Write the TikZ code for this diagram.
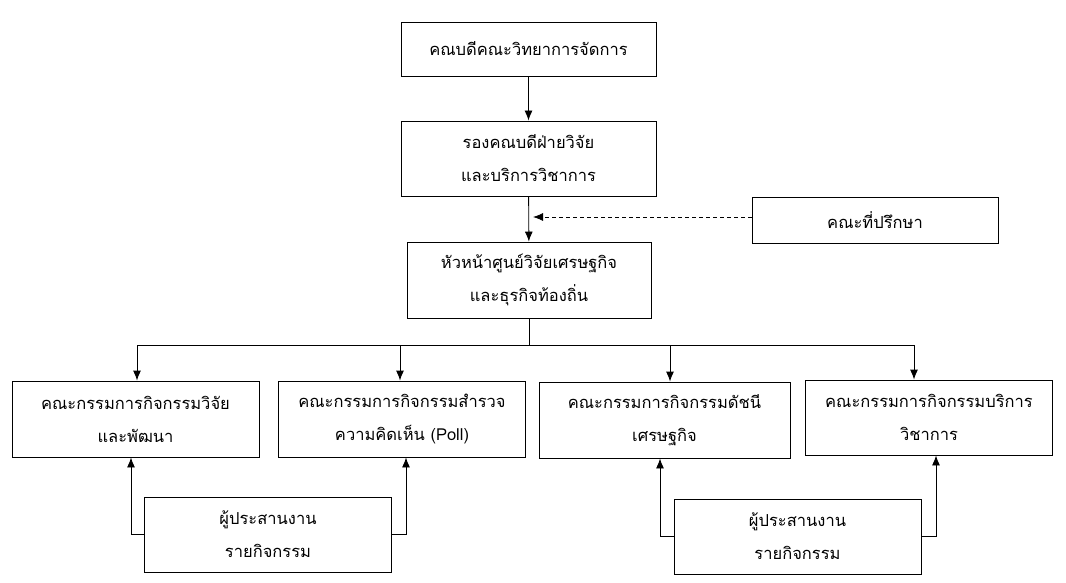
\documentclass[tikz,border=0pt]{standalone}
\usepackage{fontspec}
\newfontfamily\thaifont[Script=Thai]{Loma}
\usetikzlibrary{arrows.meta}

\begin{document}
\begin{tikzpicture}[x=1pt,y=-1pt,->,>={Latex[length=10pt,width=8pt]},line width=0.9pt,
                    font=\thaifont\fontsize{16.5}{33}\selectfont]
  \tikzstyle{every node}=[draw,align=center,inner sep=0pt]
  \tikzstyle{board}=[minimum width=247,minimum height=76]
  \useasboundingbox (0,0) rectangle (1066,583);

  \node[minimum width=255,minimum height=54](dean) at (528.5,49) {คณบดีคณะวิทยาการจัดการ};
  \node[minimum width=255,minimum height=75](vice) at (528.5,158.5) {รองคณบดีฝ่ายวิจัย\\และบริการวิชาการ};
  \node[minimum width=246,minimum height=46](adv) at (875,220) {คณะที่ปรึกษา};
  \node[minimum width=244,minimum height=76](head) at (529,280) {หัวหน้าศูนย์วิจัยเศรษฐกิจ\\และธุรกิจท้องถิ่น};

  \node[board](res)  at (135.5,419) {คณะกรรมการกิจกรรมวิจัย\\และพัฒนา};
  \node[board](poll) at (402,419)   {คณะกรรมการกิจกรรมสำรวจ\\ความคิดเห็น (Poll)};
  \node[board,minimum width=251](idx) at (664.5,420) {คณะกรรมการกิจกรรมดัชนี\\เศรษฐกิจ};
  \node[board,minimum height=75](srv) at (929,417.5) {คณะกรรมการกิจกรรมบริการ\\วิชาการ};

  \node[board,minimum height=75](coa) at (268,534.5) {ผู้ประสานงาน\\รายกิจกรรม};
  \node[board,minimum height=75](cob) at (797.5,536.5) {ผู้ประสานงาน\\รายกิจกรรม};

  \coordinate (hit) at (533,217);
  \coordinate (bus) at (529,345);
  \coordinate (b1) at (137,345);
  \coordinate (b2) at (400,345);
  \coordinate (b3) at (670,345);
  \coordinate (b4) at (914,345);

  \draw (dean) -- (vice);
  \draw (vice) -- (head);
  \draw[dashed,line width=0.8pt,dash pattern=on 4pt off 3pt] (adv.west |- hit) -- (hit);

  \draw[-] (head) -- (bus);
  \draw[-] (b1) -- (b4);
  \foreach \b/\c in {b1/res,b2/poll,b3/idx,b4/srv}
    \draw (\b) -- (\b |- \c.north);

  \draw (coa.west) -| ([xshift=-4.5]res.south);
  \draw (coa.east) -| ([xshift=4]poll.south);
  \draw (cob.west) -| ([xshift=-4.5]idx.south);
  \draw (cob.east) -| ([xshift=7]srv.south);
\end{tikzpicture}
\end{document}
